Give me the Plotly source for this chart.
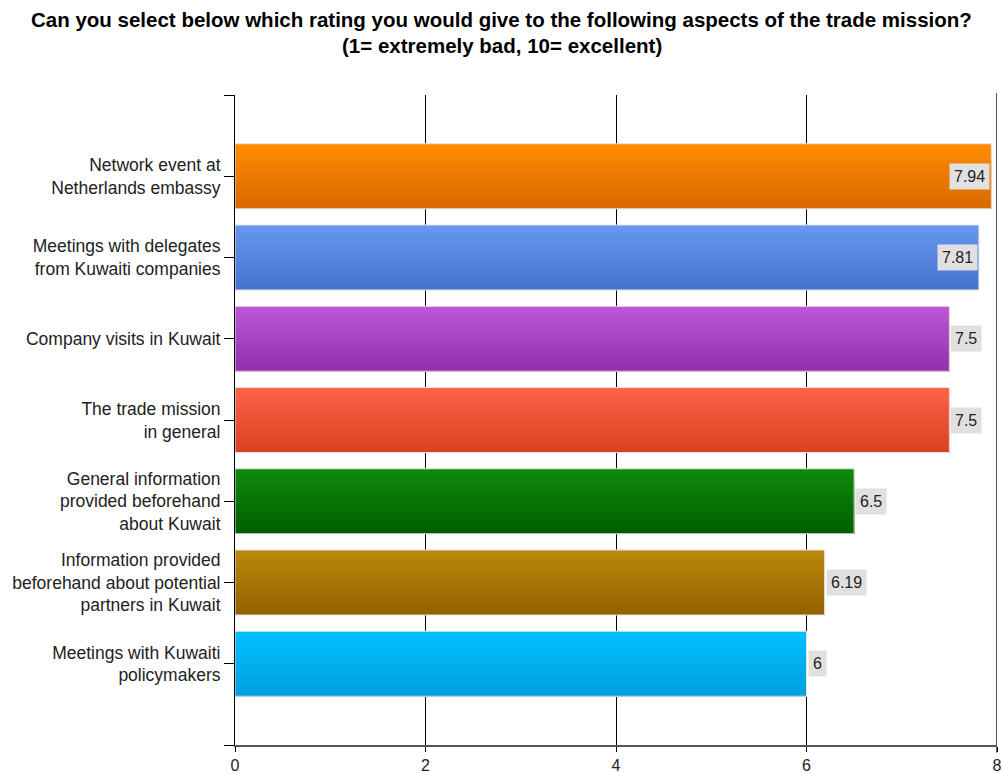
import plotly.graph_objects as go

# Survey aspects (top to bottom) and their average ratings
aspects = [
    "Network event at<br>Netherlands embassy",
    "Meetings with delegates<br>from Kuwaiti companies",
    "Company visits in Kuwait",
    "The trade mission<br>in general",
    "General information<br>provided beforehand<br>about Kuwait",
    "Information provided<br>beforehand about potential<br>partners in Kuwait",
    "Meetings with Kuwaiti<br>policymakers",
]
ratings = [7.94, 7.81, 7.5, 7.5, 6.5, 6.19, 6]
x_ticks = [0, 2, 4, 6, 8]
title_lines = [
    "Can you select below which rating you would give to the following aspects of the trade mission?",
    "(1= extremely bad, 10= excellent)",
]

# Gradient end colours per bar (top, bottom)
top_colors = ["#FF8C00", "#6797EE", "#BD56D6", "#FF6347", "#0E8A0E", "#BA880C", "#00C0FF"]
bottom_colors = ["#D86800", "#4573CF", "#9230AC", "#DA4022", "#005F00", "#946100", "#00A0DE"]


def hex_to_rgb(h):
    h = h.lstrip("#")
    return tuple(int(h[i:i + 2], 16) for i in (0, 2, 4))


def mix(c1, c2, t):
    a, b = hex_to_rgb(c1), hex_to_rgb(c2)
    return "rgb(%d,%d,%d)" % tuple(round(a[i] + (b[i] - a[i]) * t) for i in range(3))


W, H = 1003, 774
M_L, M_R, M_T, M_B = 235, 6, 95, 29
plot_w = W - M_L - M_R
plot_h = H - M_T - M_B

positions = list(range(len(aspects)))
bar_w = 0.8
n_strips = 24
step = bar_w / n_strips

fig = go.Figure()

# Each strip runs from its own offset down to the bar's bottom edge, so later
# strips cover the lower part of earlier ones and the fill reads as a gradient.
for k in range(n_strips):
    t = k / (n_strips - 1)
    fig.add_trace(go.Bar(
        x=ratings,
        y=positions,
        orientation="h",
        offset=-bar_w / 2 + k * step,
        width=bar_w - k * step,
        marker=dict(color=[mix(tc, bc, t) for tc, bc in zip(top_colors, bottom_colors)],
                    line=dict(width=0)),
        showlegend=False,
        hoverinfo="skip",
    ))

# Thin pale outline around every bar
fig.add_trace(go.Bar(
    x=ratings,
    y=positions,
    orientation="h",
    offset=-bar_w / 2,
    width=bar_w,
    marker=dict(color="rgba(0,0,0,0)", line=dict(color="#E4E4E4", width=1)),
    showlegend=False,
    hovertemplate="%{x}<extra></extra>",
))

# Value labels in grey boxes
for pos, val in zip(positions, ratings):
    inside = val > 7.7
    fig.add_annotation(
        x=val, y=pos, xref="x", yref="y",
        text=f"{val:g}",
        showarrow=False,
        xanchor="right" if inside else "left",
        xshift=-1 if inside else 1,
        bgcolor="#E0E0E0",
        borderpad=4,
        font=dict(family="Liberation Sans", size=16, color="#222222"),
    )

# Two-line bold heading, centred on the page
for line, py in zip(title_lines, [20, 45]):
    fig.add_annotation(
        x=(W / 2 - M_L) / plot_w, xref="paper", xanchor="center",
        y=(H - M_B - py) / plot_h, yref="paper", yanchor="middle",
        text=f"<b>{line}</b>",
        showarrow=False,
        font=dict(family="Liberation Sans", size=20.5, color="black"),
    )

fig.update_layout(
    width=W,
    height=H,
    paper_bgcolor="white",
    plot_bgcolor="white",
    barmode="overlay",
    margin=dict(l=M_L, r=M_R, t=M_T, b=M_B, autoexpand=False),
    xaxis=dict(
        range=[0, 8],
        tickvals=x_ticks,
        ticktext=[str(v) for v in x_ticks],
        showgrid=True, gridcolor="black", gridwidth=1,
        zeroline=False,
        showline=True, linecolor="#555555", linewidth=2,
        ticks="outside", ticklen=5, tickcolor="black", tickwidth=1,
        tickfont=dict(family="Liberation Sans", size=16, color="#222222"),
        automargin=False,
    ),
    yaxis=dict(
        range=[len(aspects), -1],
        tickvals=[-1] + positions + [len(aspects)],
        ticktext=[""] + aspects + [""],
        showgrid=False,
        zeroline=False,
        showline=True, linecolor="black", linewidth=1,
        ticks="outside", ticklen=10, tickcolor="black", tickwidth=1,
        tickfont=dict(family="Liberation Sans", size=17.5, color="#222222"),
        automargin=False,
    ),
)

# Right border line at the axis maximum
fig.add_shape(type="line", xref="x", yref="paper", x0=8, x1=8, y0=-0.012, y1=1.003,
              line=dict(color="#555555", width=2))

fig.write_html("out.html")
